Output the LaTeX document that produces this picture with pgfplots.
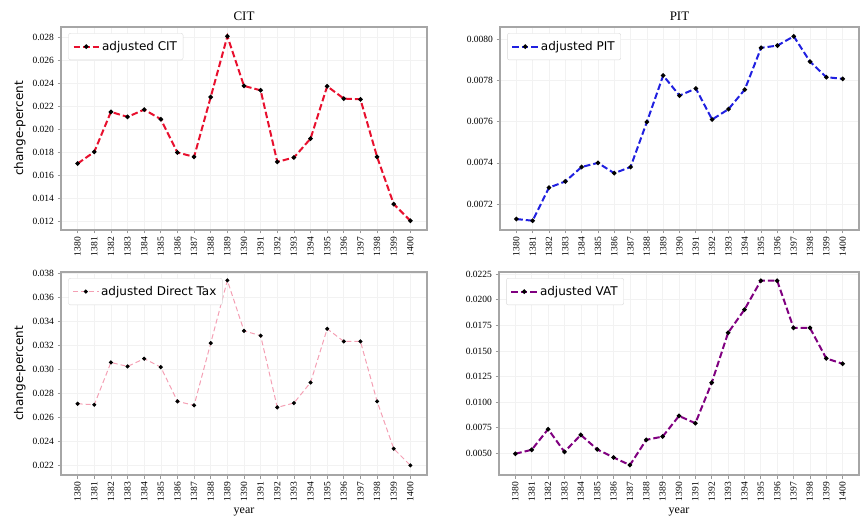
\documentclass[border=0pt]{standalone}
\usepackage{fontspec}
\setmainfont{Liberation Serif}
\newfontfamily\sansf{DejaVu Sans}
\usepackage{pgfplots}
\usepackage{pgfplotstable}
\pgfplotsset{compat=1.18}

\pgfplotstableread{
year cit     pit      dt      vat
1380 0.01704 0.007128 0.02713 0.00497
1381 0.01805 0.007120 0.02705 0.00536
1382 0.02151 0.007280 0.03057 0.00737
1383 0.02108 0.007310 0.03024 0.00516
1384 0.02171 0.007380 0.03088 0.00681
1385 0.02088 0.007400 0.03018 0.00540
1386 0.01800 0.007350 0.02733 0.00461
1387 0.01762 0.007380 0.02700 0.00387
1388 0.02280 0.007598 0.03218 0.00633
1389 0.02806 0.007823 0.03740 0.00665
1390 0.02376 0.007726 0.03320 0.00866
1391 0.02338 0.007760 0.03280 0.00795
1392 0.01719 0.007610 0.02683 0.01190
1393 0.01756 0.007660 0.02719 0.01677
1394 0.01920 0.007755 0.02890 0.01903
1395 0.02373 0.007957 0.03337 0.02185
1396 0.02266 0.007968 0.03232 0.02185
1397 0.02260 0.008013 0.03232 0.01725
1398 0.01762 0.007890 0.02733 0.01725
1399 0.01353 0.007815 0.02339 0.01427
1400 0.01209 0.007807 0.02200 0.01375
}\taxdata

\definecolor{citred}{HTML}{E8102E}
\definecolor{pitblue}{HTML}{2020E0}
\definecolor{vatpurple}{HTML}{800080}
\definecolor{dtpink}{HTML}{F4A0B4}

\pgfplotsset{
  panel/.style={
    scale only axis,
    xmin=1379, xmax=1401,
    xtick={1380,...,1400},
    x tick label style={rotate=90, anchor=east, font=\fontsize{9.5}{10}\selectfont,
      /pgf/number format/1000 sep={}},
    y tick label style={font=\fontsize{9.5}{10}\selectfont},
    /pgf/number format/assume math mode=true,
    scaled y ticks=false,
    tick align=outside, tick pos=left, major tick length=3.5pt,
    tick style={gray!80, line width=0.7pt},
    axis line style={gray!70, line width=1.4pt},
    grid=major, grid style={gray!10, line width=0.6pt},
    title style={font=\fontsize{13}{14}\selectfont, yshift=-3pt},
    label style={font=\fontsize{12}{13}\selectfont},
    legend cell align=left,
    legend style={at={(0.02,0.97)}, anchor=north west, draw=gray!30,
      rounded corners=2pt, fill=white, font=\sansf\fontsize{12}{14}\selectfont,
      inner xsep=4pt, inner ysep=6pt},
    legend image code/.code={\draw[mark repeat=2,mark phase=2]
      plot coordinates {(0cm,0cm) (0.45cm,0cm) (0.9cm,0cm)};},
  },
  taxline/.style={line width=2pt, dash pattern=on 6.5pt off 3pt,
    mark=*, mark size=1.1pt, mark options={solid, draw=black, fill=black}},
}

\begin{document}
\begin{tikzpicture}
\path[use as bounding box] (0,0) rectangle (860pt,528pt);

% CIT
\begin{axis}[panel, at={(61pt,298pt)}, anchor=south west,
  width=366pt, height=203pt,
  ymin=0.01129, ymax=0.02886,
  ytick={0.012,0.014,...,0.0281},
  yticklabel style={/pgf/number format/.cd, fixed, fixed zerofill, precision=3},
  title={CIT}, ylabel={\sansf change-percent}]
\addplot[taxline, citred] table[x=year, y=cit] {\taxdata};
\legend{adjusted CIT}
\end{axis}

% PIT
\begin{axis}[panel, at={(500pt,298pt)}, anchor=south west,
  width=359pt, height=203pt,
  ymin=0.007075, ymax=0.008058,
  ytick={0.0072,0.0074,0.0076,0.0078,0.0080},
  yticklabel style={/pgf/number format/.cd, fixed, fixed zerofill, precision=4},
  title={PIT}]
\addplot[taxline, pitblue] table[x=year, y=pit] {\taxdata};
\legend{adjusted PIT}
\end{axis}

% Direct tax
\begin{axis}[panel, at={(61pt,53pt)}, anchor=south west,
  width=366pt, height=203pt,
  ymin=0.0212, ymax=0.0381,
  ytick={0.022,0.024,...,0.0381},
  yticklabel style={/pgf/number format/.cd, fixed, fixed zerofill, precision=3},
  xlabel={year}, ylabel={\sansf change-percent}]
\addplot[dtpink, line width=1pt, dash pattern=on 5pt off 3pt,
  mark=*, mark size=1.5pt, mark options={solid, draw=black, fill=black}]
  table[x=year, y=dt] {\taxdata};
\legend{adjusted Direct Tax}
\end{axis}

% VAT
\begin{axis}[panel, at={(499pt,53pt)}, anchor=south west,
  width=360pt, height=203pt,
  ymin=0.0029, ymax=0.0227,
  ytick={0.005,0.0075,...,0.0226},
  yticklabel style={/pgf/number format/.cd, fixed, fixed zerofill, precision=4},
  xlabel={year}]
\addplot[taxline, vatpurple] table[x=year, y=vat] {\taxdata};
\legend{adjusted VAT}
\end{axis}
\end{tikzpicture}
\end{document}
